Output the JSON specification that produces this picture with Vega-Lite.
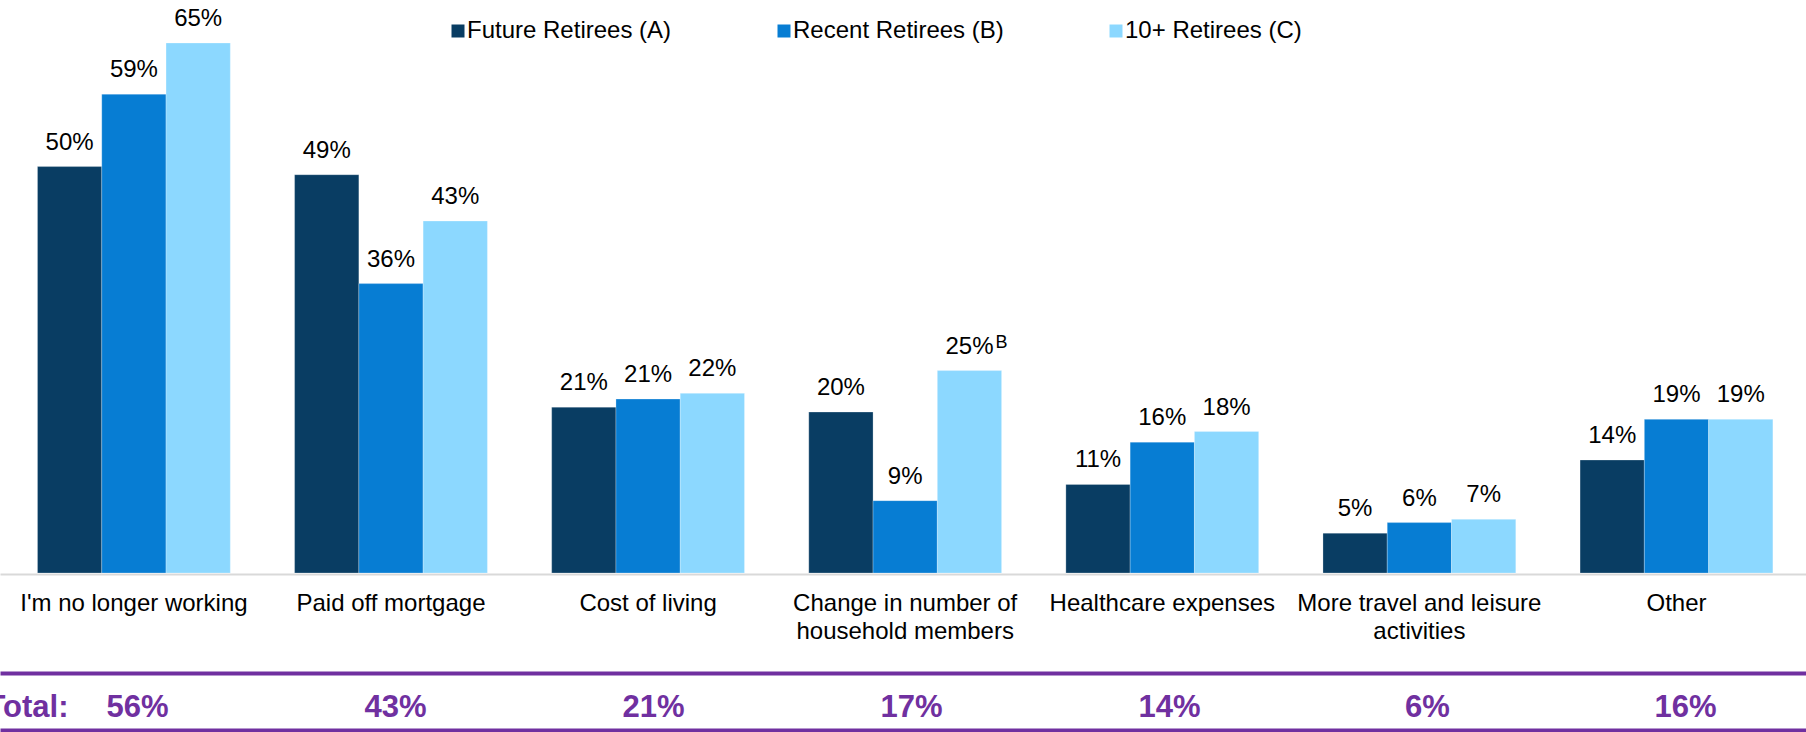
{
  "$schema": "https://vega.github.io/schema/vega-lite/v6.json",
  "width": 1806,
  "height": 569,
  "autosize": {"type": "none"},
  "padding": {"left": 0, "top": 4, "right": 0, "bottom": 159},
  "config": {
    "font": "Liberation Sans",
    "view": {"stroke": null},
    "axis": {"grid": false}
  },
  "datasets": {
    "bars": [
      {"category": "I'm no longer working", "series": "Future Retirees (A)", "value": 50.0, "label": "50%", "sup": ""},
      {"category": "I'm no longer working", "series": "Recent Retirees (B)", "value": 58.9, "label": "59%", "sup": ""},
      {"category": "I'm no longer working", "series": "10+ Retirees (C)", "value": 65.2, "label": "65%", "sup": ""},
      {"category": "Paid off mortgage", "series": "Future Retirees (A)", "value": 49.0, "label": "49%", "sup": ""},
      {"category": "Paid off mortgage", "series": "Recent Retirees (B)", "value": 35.6, "label": "36%", "sup": ""},
      {"category": "Paid off mortgage", "series": "10+ Retirees (C)", "value": 43.3, "label": "43%", "sup": ""},
      {"category": "Cost of living", "series": "Future Retirees (A)", "value": 20.4, "label": "21%", "sup": ""},
      {"category": "Cost of living", "series": "Recent Retirees (B)", "value": 21.4, "label": "21%", "sup": ""},
      {"category": "Cost of living", "series": "10+ Retirees (C)", "value": 22.1, "label": "22%", "sup": ""},
      {"category": "Change in number of|household members", "series": "Future Retirees (A)", "value": 19.8, "label": "20%", "sup": ""},
      {"category": "Change in number of|household members", "series": "Recent Retirees (B)", "value": 8.9, "label": "9%", "sup": ""},
      {"category": "Change in number of|household members", "series": "10+ Retirees (C)", "value": 24.9, "label": "25%", "sup": "B"},
      {"category": "Healthcare expenses", "series": "Future Retirees (A)", "value": 10.9, "label": "11%", "sup": ""},
      {"category": "Healthcare expenses", "series": "Recent Retirees (B)", "value": 16.1, "label": "16%", "sup": ""},
      {"category": "Healthcare expenses", "series": "10+ Retirees (C)", "value": 17.4, "label": "18%", "sup": ""},
      {"category": "More travel and leisure|activities", "series": "Future Retirees (A)", "value": 4.9, "label": "5%", "sup": ""},
      {"category": "More travel and leisure|activities", "series": "Recent Retirees (B)", "value": 6.2, "label": "6%", "sup": ""},
      {"category": "More travel and leisure|activities", "series": "10+ Retirees (C)", "value": 6.6, "label": "7%", "sup": ""},
      {"category": "Other", "series": "Future Retirees (A)", "value": 13.9, "label": "14%", "sup": ""},
      {"category": "Other", "series": "Recent Retirees (B)", "value": 18.9, "label": "19%", "sup": ""},
      {"category": "Other", "series": "10+ Retirees (C)", "value": 18.9, "label": "19%", "sup": ""}
    ],
    "totals": [
      {"category": "I'm no longer working", "total": "56%"},
      {"category": "Paid off mortgage", "total": "43%"},
      {"category": "Cost of living", "total": "21%"},
      {"category": "Change in number of|household members", "total": "17%"},
      {"category": "Healthcare expenses", "total": "14%"},
      {"category": "More travel and leisure|activities", "total": "6%"},
      {"category": "Other", "total": "16%"}
    ]
  },
  "layer": [
    {
      "data": {"name": "bars"},
      "encoding": {
        "x": {
          "field": "category",
          "type": "nominal",
          "sort": ["I'm no longer working", "Paid off mortgage", "Cost of living", "Change in number of|household members", "Healthcare expenses", "More travel and leisure|activities", "Other"],
          "scale": {"paddingInner": 0.25, "paddingOuter": 0.1373, "align": 0.531},
          "axis": {
            "orient": "bottom",
            "title": null,
            "offset": 1,
            "ticks": false,
            "tickSize": 0,
            "labelAngle": 0,
            "labelFontSize": 24,
            "labelColor": "#000000",
            "labelPadding": 17.5,
            "labelBaseline": "top",
            "labelLineHeight": 27.6,
            "labelLimit": 400,
            "labelOverlap": false,
            "labelExpr": "split(datum.label, '|')",
            "domainColor": "#d9d9d9",
            "domainWidth": 2
          }
        },
        "xOffset": {"field": "series", "type": "nominal", "sort": ["Future Retirees (A)", "Recent Retirees (B)", "10+ Retirees (C)"]},
        "y": {"field": "value", "type": "quantitative", "scale": {"domain": [0, 70]}, "axis": null}
      },
      "layer": [
        {
          "mark": {"type": "bar", "stroke": "#ffffff", "strokeOpacity": 0.25, "strokeWidth": 1},
          "encoding": {
            "color": {
              "field": "series",
              "type": "nominal",
              "scale": {
                "domain": ["Future Retirees (A)", "Recent Retirees (B)", "10+ Retirees (C)"],
                "range": ["#093d63", "#077dd3", "#8cd8ff"]
              },
              "legend": {
                "title": null,
                "orient": "none",
                "legendX": 446,
                "legendY": 15,
                "direction": "horizontal",
                "symbolType": "square",
                "symbolSize": 169,
                "symbolStrokeWidth": 0,
                "symbolOpacity": 1,
                "labelFontSize": 24,
                "labelColor": "#000000",
                "labelOffset": -3,
                "labelLimit": 400,
                "columnPadding": 100,
                "padding": 0
              }
            }
          }
        },
        {
          "mark": {"type": "text", "baseline": "alphabetic", "dy": -17, "fontSize": 24, "color": "#000000"},
          "encoding": {"text": {"field": "label"}}
        },
        {
          "transform": [{"filter": "datum.sup != ''"}],
          "mark": {"type": "text", "align": "left", "baseline": "alphabetic", "dx": 26, "dy": -23, "fontSize": 18, "color": "#000000"},
          "encoding": {"text": {"field": "sup"}}
        }
      ]
    },
    {
      "data": {"name": "totals"},
      "mark": {"type": "text", "opacity": 0},
      "encoding": {
        "x": {
          "field": "total",
          "type": "nominal",
          "sort": null,
          "scale": {"paddingInner": 0.25, "paddingOuter": 0.1373, "align": 0.531},
          "axis": {
            "orient": "bottom",
            "offset": 100,
            "ticks": false,
            "tickSize": 0,
            "domainColor": "#7030a0",
            "domainWidth": 4,
            "labelAngle": 0,
            "labelFontSize": 31,
            "labelFontWeight": "bold",
            "labelColor": "#7030a0",
            "labelPadding": 43,
            "labelBaseline": "alphabetic",
            "labelOverlap": false,
            "title": "Total:",
            "titleX": 68,
            "titleY": 43,
            "titleAlign": "right",
            "titleAngle": 0,
            "titleBaseline": "alphabetic",
            "titleFontSize": 31,
            "titleFontWeight": "bold",
            "titleColor": "#7030a0"
          }
        },
        "text": {"field": "total"}
      }
    },
    {
      "data": {"name": "totals"},
      "mark": {"type": "text", "opacity": 0},
      "encoding": {
        "x": {
          "field": "category",
          "type": "nominal",
          "sort": null,
          "scale": {"paddingInner": 0.25, "paddingOuter": 0.1373, "align": 0.531},
          "axis": {
            "orient": "bottom",
            "offset": 157,
            "ticks": false,
            "tickSize": 0,
            "labels": false,
            "title": null,
            "domainColor": "#7030a0",
            "domainWidth": 4
          }
        },
        "text": {"field": "total"}
      }
    }
  ],
  "resolve": {"scale": {"x": "independent"}, "axis": {"x": "independent"}}
}
